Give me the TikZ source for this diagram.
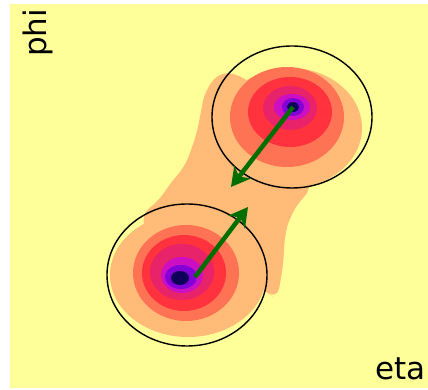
\documentclass[tikz,border=0pt]{standalone}
\usepackage{fontspec}
\setmainfont{DejaVu Sans}
\usetikzlibrary{arrows.meta,shapes.geometric}
\definecolor{plotyellow}{RGB}{255,255,153}
\definecolor{heatA}{RGB}{255,187,119}
\definecolor{heatB}{RGB}{255,115,85}
\definecolor{heatC}{RGB}{255,50,62}
\definecolor{heatD}{RGB}{232,35,105}
\definecolor{heatE}{RGB}{205,15,195}
\definecolor{heatF}{RGB}{130,0,215}
\definecolor{heatG}{RGB}{15,0,90}
\definecolor{jetgreen}{RGB}{0,110,0}

\begin{document}
\begin{tikzpicture}[x=1pt, y=1pt,
    cone/.style={draw=black, line width=1.4pt, ellipse, minimum width=160pt, minimum height=142pt, inner sep=0pt},
    jetarrow/.style={-{Stealth[length=19pt, width=21pt, inset=6pt]}, line width=4.5pt, jetgreen},
    axislabel/.style={font=\fontsize{31}{34}\selectfont, inner sep=0pt}]
    \useasboundingbox (0,0) rectangle (428,390);
    \fill[white] (0,0) rectangle (428,390);

    % plot area
    \fill[plotyellow] (10,2) rectangle (428,386);

    % outer energy deposit (both jets and the band between them)
    \fill[heatA] (290,262) ellipse [x radius=72, y radius=60];
    \fill[heatA] (188,115) ellipse [x radius=78, y radius=62];
    \fill[heatA, rounded corners=12pt] (222,320) -- (205,300) -- (197,257) -- (185,223) -- (170,207)
        -- (160,190) -- (140,175) -- (150,150) -- (265,100) -- (277,90) -- (283,123) -- (285,157)
        -- (290,173) -- (300,190) -- (313,202) -- (300,240) -- (250,310) -- cycle;

    % upper jet core
    \fill[heatB] (287,273) ellipse [x radius=57, y radius=50];
    \fill[heatC] (290,278) ellipse [x radius=42, y radius=35];
    \fill[heatD] (290,282) ellipse [x radius=27, y radius=22];
    \fill[heatE] (292,283) ellipse [x radius=18, y radius=13];
    \fill[heatF] (293,283) ellipse [x radius=11, y radius=9];
    \fill[heatG] (293,283) ellipse [x radius=6, y radius=5];

    % lower jet core
    \fill[heatB] (186,117) ellipse [x radius=53, y radius=48];
    \fill[heatC] (184,117) ellipse [x radius=42, y radius=38];
    \fill[heatD] (182,118) ellipse [x radius=32, y radius=28];
    \fill[heatE] (182,115) ellipse [x radius=21, y radius=18];
    \fill[heatF] (181,113) ellipse [x radius=16, y radius=12];
    \fill[heatG] (180,112) ellipse [x radius=9, y radius=7];

    % cones
    \node[cone] (upcone) at (292,273) {};
    \node[cone] (lowcone) at (187,115) {};

    % jet axes
    \coordinate (upcore) at (293,283);
    \coordinate (uptip) at (231,203);
    \coordinate (lowcore) at (195,113);
    \coordinate (lowtip) at (248,183);
    \draw[jetarrow] (upcore) -- (uptip);
    \draw[jetarrow] (lowcore) -- (lowtip);

    % axis labels
    \node[axislabel, rotate=90, anchor=base west] (philabel) at (46,333) {phi};
    \node[axislabel, anchor=base west] (etalabel) at (375,10) {eta};
\end{tikzpicture}
\end{document}
